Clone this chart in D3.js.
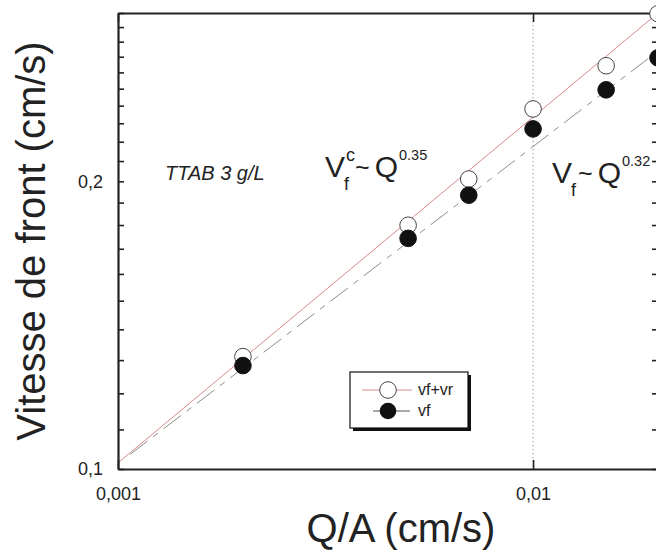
<!DOCTYPE html>
<html>
<head>
<meta charset="utf-8">
<script src="https://cdn.jsdelivr.net/npm/d3@7"></script>
<style>
  body { margin: 0; background: #fff; }
  svg { display: block; font-family: "Liberation Sans", Arial, sans-serif; }
</style>
</head>
<body>
<svg id="chart" width="656" height="551"></svg>
<script>
// ---- data ----
const flowRates = [0.002, 0.005, 0.007, 0.01, 0.015, 0.02];          // Q/A (cm/s)
const vfPlusVr  = [0.1311, 0.1799, 0.2011, 0.2381, 0.2642, 0.2995];   // open circles
const vfOnly    = [0.1283, 0.1743, 0.1934, 0.2269, 0.2493, 0.2693];   // filled circles
// fitted power-law lines, as [Q, V] end points
const fitVfPlusVr = [[0.001, 0.1015], [0.02, 0.300]];
const fitVf       = [[0.00107, 0.1036], [0.02, 0.2737]];
const xTickValues = [0.001, 0.01, 0.02];
const xTickLabels = ["0,001", "0,01", ""];
const yTickValues = [0.1, 0.11, 0.12, 0.13, 0.14, 0.15, 0.16, 0.17, 0.18, 0.19, 0.2,
                     0.21, 0.22, 0.23, 0.24, 0.25, 0.26, 0.27, 0.28, 0.29, 0.3];
const yTickLabels = {0.1: "0,1", 0.2: "0,2"};
const legendItems = ["vf+vr", "vf"];

// ---- layout ----
const svg = d3.select("#chart");
const L = 118, R = 658, T = 13, B = 469;
const x = d3.scaleLog().domain([0.001, 0.02]).range([L, R]);
const y = d3.scaleLog().domain([0.1, 0.3]).range([B, T]);

// dotted vertical at 0.01
svg.append("line")
  .attr("x1", x(0.01)).attr("x2", x(0.01))
  .attr("y1", T).attr("y2", B)
  .attr("stroke", "#8a8a8a").attr("stroke-width", 1)
  .attr("stroke-dasharray", "1.2,2.8");

// fit lines
const line = d3.line().x(d => x(d[0])).y(d => y(d[1]));
svg.append("path").attr("d", line(fitVfPlusVr))
  .attr("fill", "none").attr("stroke", "#d88a8a").attr("stroke-width", 1);
svg.append("path").attr("d", line(fitVf))
  .attr("fill", "none").attr("stroke", "#8c8c8c").attr("stroke-width", 1)
  .attr("stroke-dasharray", "22,7,6,7");

// axes
const fmtY = d => yTickLabels[d] || "";
const axL = svg.append("g").attr("transform", `translate(${L},0)`)
  .call(d3.axisLeft(y).tickValues(yTickValues).tickFormat(fmtY).tickSizeInner(-6).tickSizeOuter(0).tickPadding(15));
const axR = svg.append("g").attr("transform", `translate(${R},0)`)
  .call(d3.axisRight(y).tickValues(yTickValues).tickFormat("").tickSizeInner(-6).tickSizeOuter(0));
const axB = svg.append("g").attr("transform", `translate(0,${B})`)
  .call(d3.axisBottom(x).tickValues(xTickValues).tickFormat((d, i) => xTickLabels[i]).tickSizeInner(-9).tickSizeOuter(0).tickPadding(18));
const axT = svg.append("g").attr("transform", `translate(0,${T})`)
  .call(d3.axisTop(x).tickValues(xTickValues).tickFormat("").tickSizeInner(-9).tickSizeOuter(0));
[axL, axR, axB, axT].forEach(g => {
  g.select(".domain").attr("stroke", "#222").attr("stroke-width", 2.2);
  g.selectAll(".tick line").attr("stroke", "#222").attr("stroke-width", 1.6);
  g.selectAll(".tick text").attr("fill", "#222")
    .style("font-family", '"Liberation Sans", Arial, sans-serif').style("font-size", "18px");
});

// points
const pts = flowRates.map((q, i) => ({q, a: vfPlusVr[i], b: vfOnly[i]}));
svg.append("g").selectAll("circle").data(pts).join("circle")
  .attr("cx", d => x(d.q)).attr("cy", d => y(d.a)).attr("r", 8.3)
  .attr("fill", "#fff").attr("stroke", "#444").attr("stroke-width", 1);
svg.append("g").selectAll("circle").data(pts).join("circle")
  .attr("cx", d => x(d.q)).attr("cy", d => y(d.b)).attr("r", 8.3)
  .attr("fill", "#111").attr("stroke", "#111").attr("stroke-width", 1);

// legend
const lg = svg.append("g");
lg.append("rect").attr("x", 353).attr("y", 375).attr("width", 118).attr("height", 56).attr("fill", "#111");
lg.append("rect").attr("x", 350).attr("y", 372).attr("width", 118).attr("height", 56)
  .attr("fill", "#fff").attr("stroke", "#111").attr("stroke-width", 1.2);
lg.append("line").attr("x1", 362).attr("x2", 412).attr("y1", 390).attr("y2", 390).attr("stroke", "#d88a8a");
lg.append("circle").attr("cx", 388).attr("cy", 390).attr("r", 8.3).attr("fill", "#fff").attr("stroke", "#444");
lg.append("line").attr("x1", 373).attr("x2", 410).attr("y1", 411).attr("y2", 411).attr("stroke", "#555");
lg.append("circle").attr("cx", 388).attr("cy", 411).attr("r", 8.3).attr("fill", "#111");
lg.selectAll("text").data(legendItems).join("text")
  .attr("x", 418).attr("y", (d, i) => 395 + i * 21)
  .style("font-size", "16px").attr("fill", "#222").text(d => d);

// annotations
svg.append("text").attr("x", 165).attr("y", 180)
  .style("font-size", "20px").style("font-style", "italic").attr("fill", "#222").text("TTAB 3 g/L");

function powerLaw(x0, yb, hasC, exp) {
  const g = svg.append("g").attr("fill", "#222");
  const V = g.append("text").attr("x", x0).attr("y", yb).style("font-size", "30px").text("V");
  const vw = V.node().getComputedTextLength();
  g.append("text").attr("x", x0 + vw - 1).attr("y", yb + 13).style("font-size", "18px").text("f");
  let cx = x0 + vw + 6;
  if (hasC) {
    const c = g.append("text").attr("x", x0 + vw + 1).attr("y", yb - 16).style("font-size", "18px").text("c");
    cx = x0 + vw + 1 + c.node().getComputedTextLength();
  }
  const t = g.append("text").attr("x", cx).attr("y", yb - 1).style("font-size", "25px").text("~");
  const qx = cx + t.node().getComputedTextLength() + 5;
  const q = g.append("text").attr("x", qx).attr("y", yb).style("font-size", "30px").text("Q");
  g.append("text").attr("x", qx + q.node().getComputedTextLength() + 1).attr("y", yb - 17)
    .style("font-size", "14.5px").text(exp);
}
powerLaw(325, 177, true, "0.35");
powerLaw(552, 183, false, "0.32");

// axis titles
svg.append("text").attr("x", 401).attr("y", 542).attr("text-anchor", "middle")
  .style("font-size", "40px").attr("fill", "#222").text("Q/A (cm/s)");
svg.append("text").attr("transform", "translate(45,241) rotate(-90)").attr("text-anchor", "middle")
  .style("font-size", "40px").attr("fill", "#222").text("Vitesse de front (cm/s)");
</script>
</body>
</html>
